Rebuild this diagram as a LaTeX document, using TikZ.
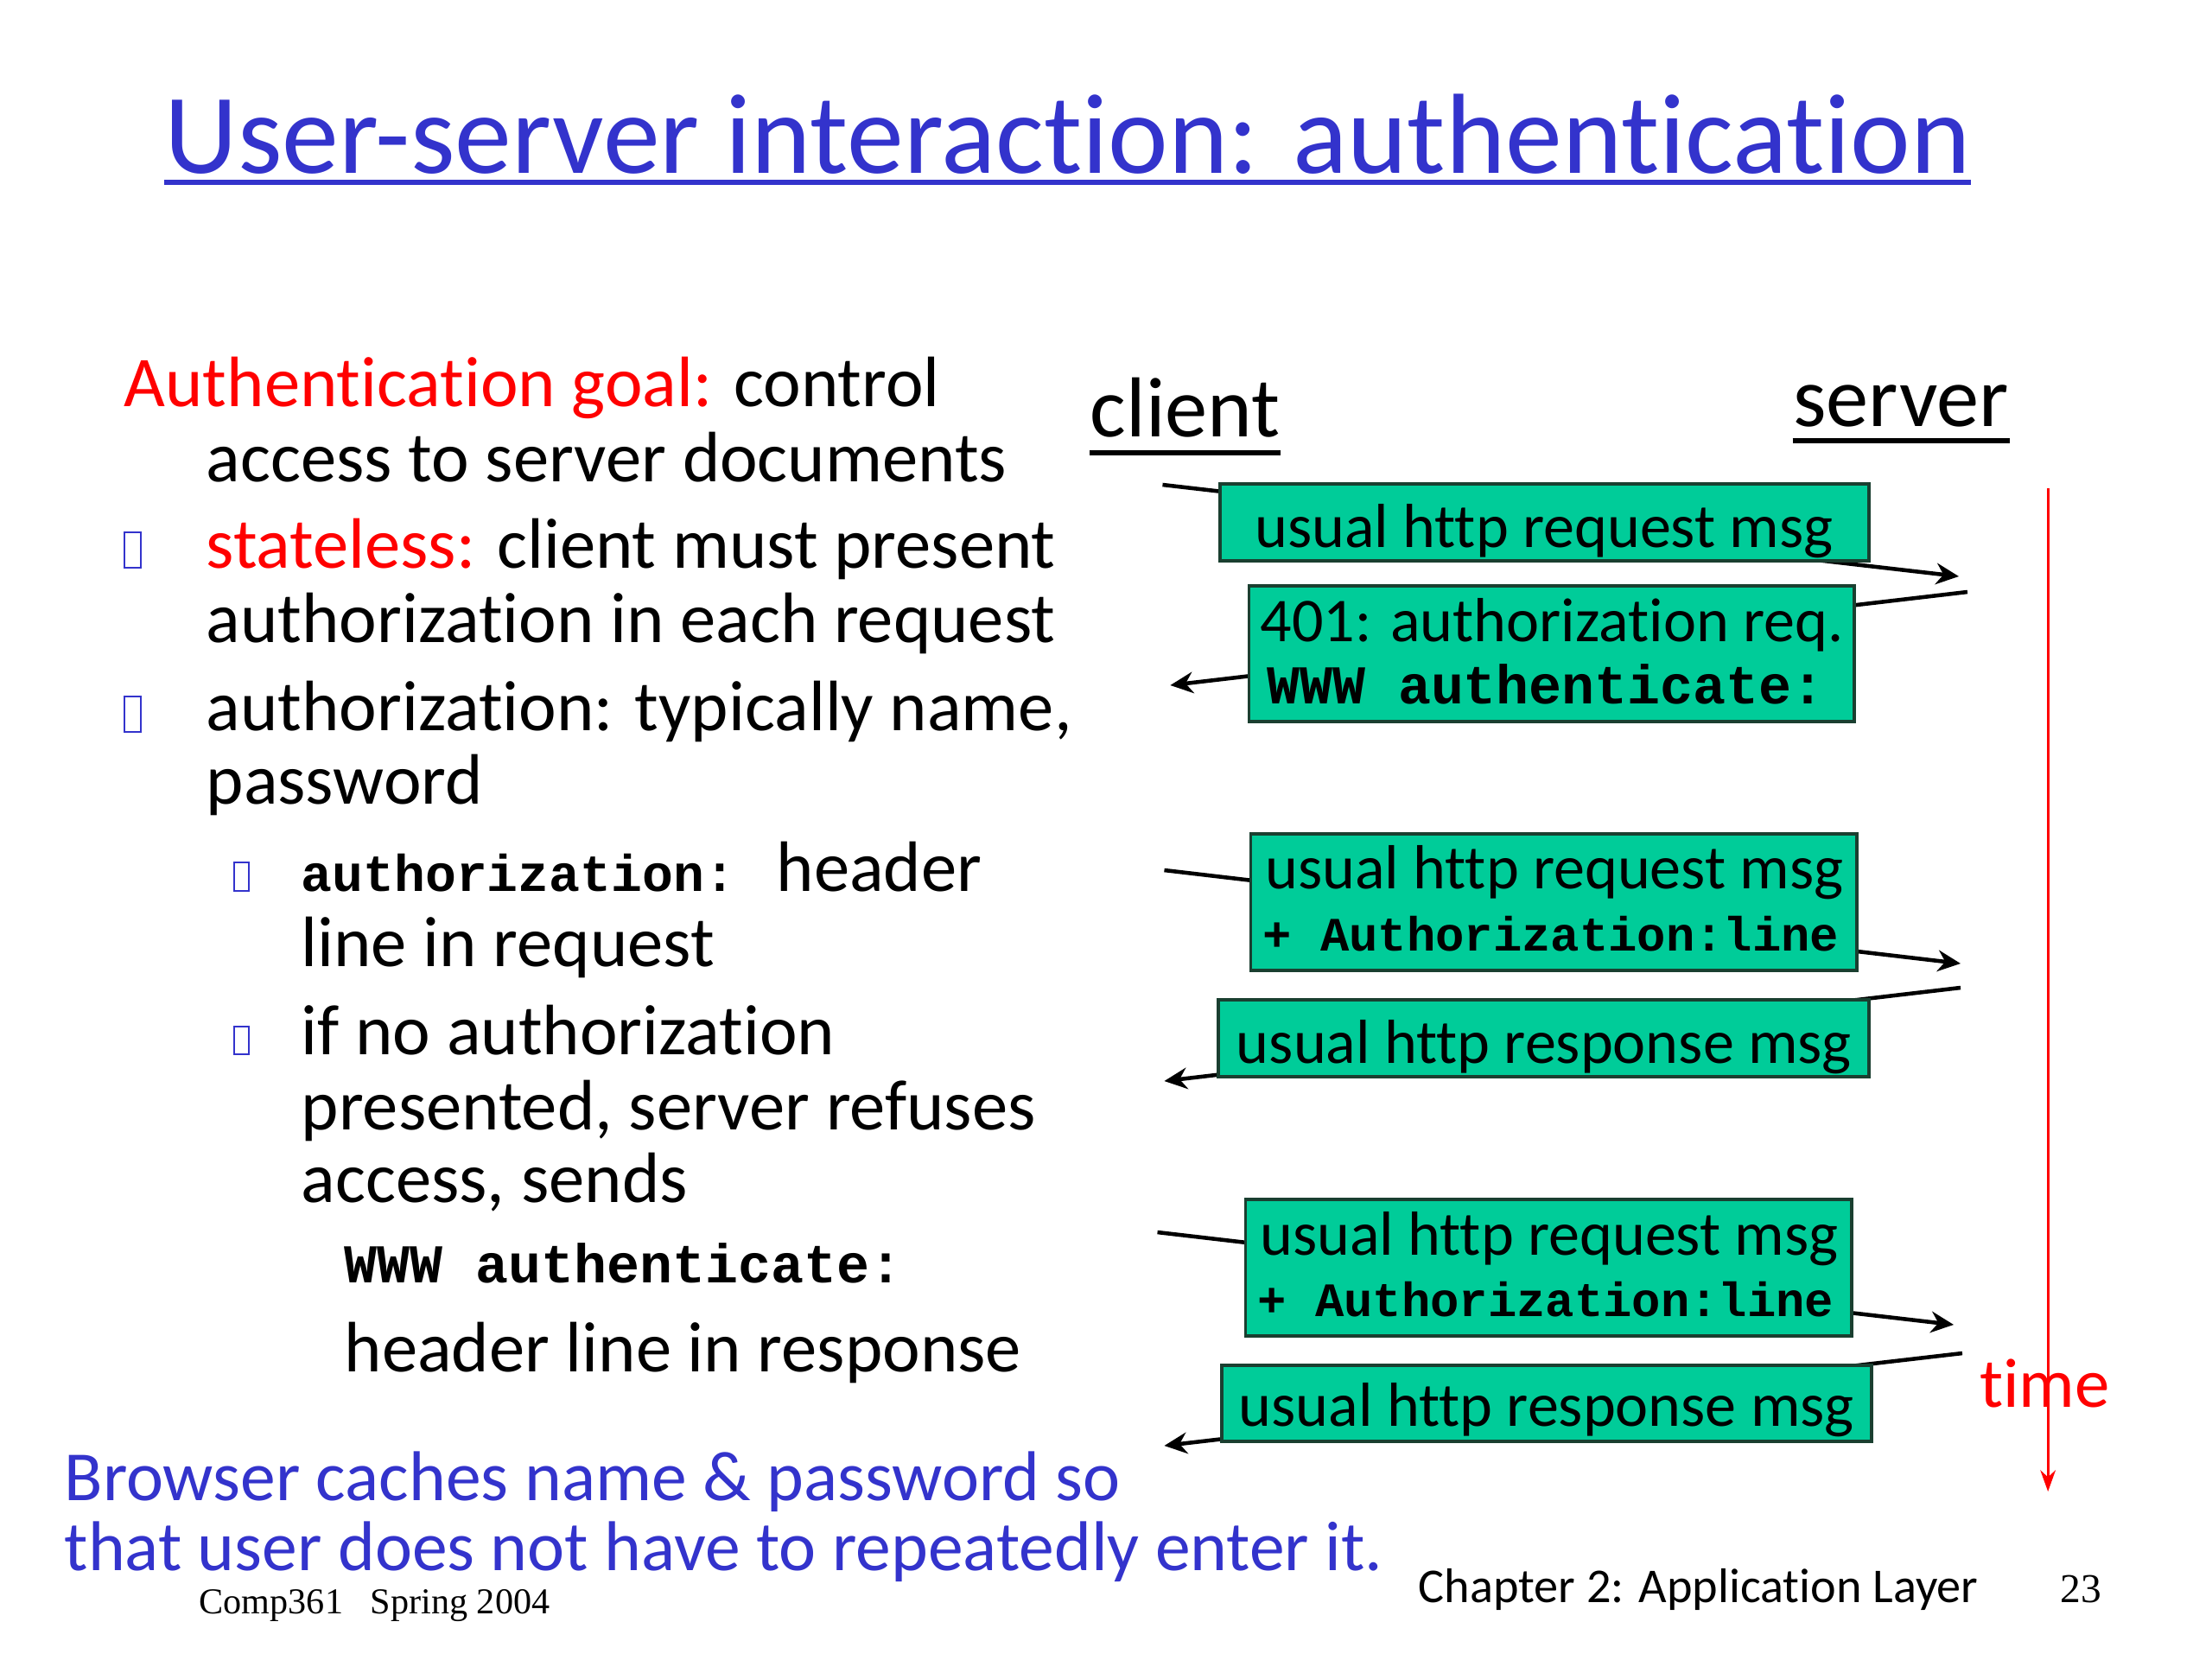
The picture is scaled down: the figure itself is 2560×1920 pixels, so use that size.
\documentclass[tikz,border=0pt]{standalone}
\usepackage{fontspec}
\setmainfont{Carlito}[Ligatures=NoCommon]
\newfontfamily\monof{Liberation Mono}
\newfontfamily\timesf{Liberation Serif}
\usetikzlibrary{arrows.meta,fit,calc}
\definecolor{titleblue}{HTML}{3333CC}
\definecolor{slidered}{HTML}{FF0000}
\definecolor{boxgreen}{HTML}{00CC99}
\definecolor{boxedge}{HTML}{1A3F30}
\begin{document}
\begin{tikzpicture}[x=0.01cm, y=-0.01cm,
  titletext/.style={anchor=base west, inner sep=0pt, text=titleblue, font=\fontsize{37.5}{44}\selectfont},
  body/.style={anchor=base west, inner sep=0pt, font=\fontsize{23.5}{28}\selectfont},
  monoline/.style={anchor=base west, inner sep=0pt, font=\monof\bfseries\fontsize{18}{22}\selectfont},
  bluetext/.style={anchor=base west, inner sep=0pt, text=titleblue, font=\fontsize{23.2}{28}\selectfont},
  lifelabel/.style={anchor=base west, inner sep=0pt, font=\fontsize{28}{32}\selectfont},
  timelabel/.style={anchor=base, inner sep=0pt, text=slidered, font=\fontsize{23}{28}\selectfont},
  boxtext/.style={anchor=base, inner sep=0pt, font=\fontsize{20.5}{24}\selectfont},
  boxmono/.style={anchor=base, inner sep=0pt, font=\monof\bfseries\fontsize{18}{22}\selectfont},
  boxmonosmall/.style={anchor=base, inner sep=0pt, font=\monof\bfseries\fontsize{15.8}{20}\selectfont},
  msgbox/.style={draw=boxedge, line width=1pt, fill=boxgreen, inner sep=0pt},
  bulletbox/.style={draw=titleblue, line width=0.6pt, inner sep=0pt},
  msgarrow/.style={line width=1.3pt, -{Stealth[length=7.5pt, width=7pt]}},
  timearrow/.style={slidered, line width=0.9pt, -{Stealth[length=7pt, width=5pt]}},
  uline/.style={line width=1.5pt}
]
\useasboundingbox (0,0) rectangle (2560,1920);

% title
\node[titletext] (title) at (190,200) {User-server interaction: authentication};
\draw[uline, titleblue, line width=1.7pt] ($(title.base west)+(0,11)$) -- ($(title.base east)+(0,11)$);

% left text
\node[body] (l1) at (143,470) {\textcolor{slidered}{Authentication goal:} control};
\node[body] (l2) at (238,557) {access to server documents};
\node[bulletbox, fit={(144,616) (163,657)}] (bu1) {};
\node[body] (l3) at (238,657) {\textcolor{slidered}{stateless:} client must present};
\node[body] (l4) at (238,743) {authorization in each request};
\node[bulletbox, fit={(144,806) (163,847)}] (bu2) {};
\node[body] (l5) at (238,845) {authorization: typically name,};
\node[body] (l6) at (238,930) {password};
\node[bulletbox, fit={(271,998) (288,1031)}] (sb1) {};
\node[body] (l7) at (348,1031) {{\monof\bfseries\fontsize{17}{22}\selectfont authorization: }header};
\node[body] (l8) at (348,1118) {line in request};
\node[bulletbox, fit={(271,1188) (288,1220)}] (sb2) {};
\node[body] (l9) at (348,1220) {if no authorization};
\node[body] (l10) at (348,1307) {presented, server refuses};
\node[body] (l11) at (348,1391) {access, sends};
\node[monoline] (l12) at (398,1484) {WWW authenticate:};
\node[body] (l13) at (398,1587) {header line in response};
\node[bluetext] (n1) at (74,1736) {Browser caches name \& password so};
\node[bluetext] (n2) at (74,1817) {that user does not have to repeatedly enter it.};

% footers
\node[anchor=base west, inner sep=0pt, font=\timesf\fontsize{12}{14}\selectfont] (comp) at (230,1867) {Comp361\hspace{9pt}Spring 2004};
\node[anchor=base west, inner sep=0pt, font=\fontsize{16}{19}\selectfont] (chap) at (1641,1854) {Chapter 2: Application Layer};
\node[anchor=base west, inner sep=0pt, font=\timesf\fontsize{13.5}{16}\selectfont] (pg) at (2384,1854) {23};

\begin{scope}[xscale=0.992, xshift=0.034cm]
% lifeline labels
\node[lifelabel] (client) at (1268,505) {client};
\draw[uline] ($(client.base west)+(0,19)$) -- ($(client.base east)+(0,19)$);
\node[lifelabel] (server) at (2088,493) {server};
\draw[uline] ($(server.base west)+(0,17)$) -- ($(server.base east)+(0,17)$);

% time axis
\coordinate (tl0) at (2386,565);
\coordinate (tl1) at (2386,1726);
\draw[timearrow] (tl0) -- (tl1);
\node[timelabel] (time) at (2382,1628) {time};

% message arrows (behind boxes)
\coordinate (r1s) at (1353,561);  \coordinate (r1e) at (2282,667);
\coordinate (a1s) at (2292,685);  \coordinate (a1e) at (1362,793);
\coordinate (r2s) at (1355,1007); \coordinate (r2e) at (2284,1115);
\coordinate (a2s) at (2284,1143); \coordinate (a2e) at (1355,1251);
\coordinate (r3s) at (1347,1426); \coordinate (r3e) at (2276,1533);
\coordinate (a3s) at (2286,1566); \coordinate (a3e) at (1355,1673);
\draw[msgarrow] (r1s) -- (r1e);
\draw[msgarrow] (a1s) -- (a1e);
\draw[msgarrow] (r2s) -- (r2e);
\draw[msgarrow] (a2s) -- (a2e);
\draw[msgarrow] (r3s) -- (r3e);
\draw[msgarrow] (a3s) -- (a3e);

% message boxes
\node[msgbox, fit={(1420,560) (2177,649)}] (b1) {};
\node[msgbox, fit={(1454,678) (2160,835)}] (b2) {};
\node[msgbox, fit={(1456,965) (2163,1123)}] (b3) {};
\node[msgbox, fit={(1418,1157) (2177,1246)}] (b4) {};
\node[msgbox, fit={(1450,1388) (2157,1546)}] (b5) {};
\node[msgbox, fit={(1422,1580) (2180,1668)}] (b6) {};

\node[boxtext] (t1) at (1798,633) {usual http request msg};
\node[boxtext] (t2a) at (1807,742) {401: authorization req.};
\node[boxmono] (t2b) at (1800,814) {WWW authenticate:};
\node[boxtext] (t3a) at (1810,1028) {usual http request msg};
\node[boxmonosmall] (t3b) at (1806,1100) {+ Authorization:line};
\node[boxtext] (t4) at (1798,1230) {usual http response msg};
\node[boxtext] (t5a) at (1804,1452) {usual http request msg};
\node[boxmonosmall] (t5b) at (1800,1523) {+ Authorization:line};
\node[boxtext] (t6) at (1801,1650) {usual http response msg};
\end{scope}
\end{tikzpicture}
\end{document}
